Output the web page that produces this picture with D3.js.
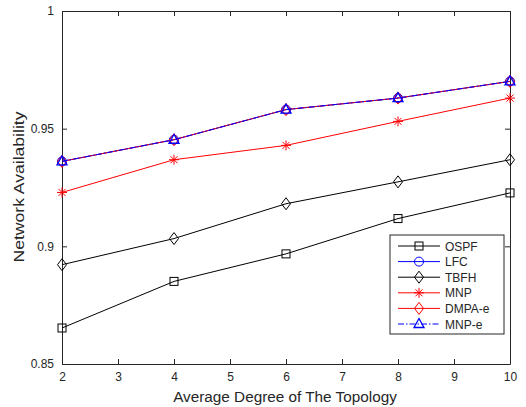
<!DOCTYPE html>
<html>
<head>
<meta charset="utf-8">
<script src="https://cdn.jsdelivr.net/npm/d3@7"></script>
<style>
  body { margin: 0; background: #fff; }
  text { font-family: "Liberation Sans", Arial, Helvetica, sans-serif; fill: #262626; }
</style>
</head>
<body>
<script>
// Data
var degrees = [2, 4, 6, 8, 10];
var ospf   = [0.8653, 0.8851, 0.8968, 0.9118, 0.9227];
var lfc    = [0.9361, 0.9453, 0.9581, 0.9630, 0.9701];
var tbfh   = [0.8922, 0.9033, 0.9181, 0.9274, 0.9368];
var mnp    = [0.9229, 0.9368, 0.9429, 0.9531, 0.9630];
var dmpaE  = [0.9361, 0.9453, 0.9581, 0.9630, 0.9701];
var mnpE   = [0.9361, 0.9453, 0.9581, 0.9630, 0.9701];
var xTicks = [2, 3, 4, 5, 6, 7, 8, 9, 10];
var yTicks = [0.85, 0.9, 0.95, 1];

var series = [
  {name: "OSPF",   values: ospf,  color: "#000", marker: "square",   dash: null},
  {name: "LFC",    values: lfc,   color: "#0000ff", marker: "circle", dash: null},
  {name: "TBFH",   values: tbfh,  color: "#000", marker: "diamond",  dash: null},
  {name: "MNP",    values: mnp,   color: "#ff0000", marker: "star",   dash: null},
  {name: "DMPA-e", values: dmpaE, color: "#ff0000", marker: "diamond", dash: null},
  {name: "MNP-e",  values: mnpE,  color: "#0000ff", marker: "triangle", dash: "6,2,1.5,2"}
];

// Set the dimensions of the canvas / graph
var margin = {top: 11, right: 16, bottom: 43, left: 62},
    width = 526 - margin.left - margin.right,
    height = 407 - margin.top - margin.bottom;

var x = d3.scaleLinear().domain([2, 10]).range([0, width]);
var y = d3.scaleLinear().domain([0.85, 1]).range([height, 0]);

var svg = d3.select("body")
    .append("svg")
        .attr("width", 526)
        .attr("height", 407)
    .append("g")
        .attr("transform", "translate(" + margin.left + "," + margin.top + ")");

// Axes (ticks point inward, MATLAB style)
var xAxis = d3.axisBottom(x).tickValues(xTicks).tickSizeInner(-5).tickSizeOuter(0).tickPadding(8)
    .tickFormat(d3.format("d"));
var yAxis = d3.axisLeft(y).tickValues(yTicks).tickSizeInner(-5).tickSizeOuter(0).tickPadding(8)
    .tickFormat(function(d) { return d === 1 ? "1" : d3.format(".2~f")(d); });

svg.append("g")
    .attr("class", "x axis")
    .attr("transform", "translate(0," + height + ")")
    .call(xAxis);
svg.append("g")
    .attr("class", "y axis")
    .call(yAxis);
// top and right ticks
svg.append("g").call(d3.axisTop(x).tickValues(xTicks).tickSizeInner(-5).tickSizeOuter(0).tickFormat(""));
svg.append("g").attr("transform", "translate(" + width + ",0)")
    .call(d3.axisRight(y).tickValues(yTicks).tickSizeInner(-5).tickSizeOuter(0).tickFormat(""));

svg.selectAll(".domain").attr("stroke", "#262626");
svg.selectAll(".tick line").attr("stroke", "#262626");
svg.selectAll(".tick text").style("font-size", "12px").attr("fill", "#262626");

// Labels
svg.append("text")
    .attr("x", 285 - margin.left)
    .attr("y", 402 - margin.top)
    .attr("text-anchor", "middle")
    .style("font-size", "15.3px")
    .text("Average Degree of The Topology");
svg.append("text")
    .attr("transform", "translate(" + (24 - margin.left) + "," + (187 - margin.top) + ") rotate(-90)")
    .attr("text-anchor", "middle")
    .attr("textLength", 151)
    .attr("lengthAdjust", "spacingAndGlyphs")
    .style("font-size", "15.3px")
    .text("Network Availability");

function drawMarker(g, type, color) {
  if (type === "square") {
    g.append("rect").attr("x", -4).attr("y", -4).attr("width", 8).attr("height", 8)
      .attr("fill", "none").attr("stroke", color);
  } else if (type === "circle") {
    g.append("circle").attr("r", 4.5).attr("fill", "none").attr("stroke", color);
  } else if (type === "diamond") {
    g.append("path").attr("d", "M0,-6L4.5,0L0,6L-4.5,0Z").attr("fill", "none").attr("stroke", color);
  } else if (type === "triangle") {
    g.append("path").attr("d", "M0,-5.5L5,3.5L-5,3.5Z").attr("fill", "none").attr("stroke", color).attr("stroke-width", 1.3);
  } else if (type === "star") {
    g.append("path").attr("d", "M-5,0L5,0M0,-5L0,5M-3.5,-3.5L3.5,3.5M-3.5,3.5L3.5,-3.5")
      .attr("stroke", color).attr("stroke-width", 1);
  }
}

var line = d3.line()
    .x(function(d) { return x(d.x); })
    .y(function(d) { return y(d.y); });

series.forEach(function(s) {
  var pts = degrees.map(function(d, i) { return {x: d, y: s.values[i]}; });
  svg.append("path")
      .datum(pts)
      .attr("d", line)
      .attr("fill", "none")
      .attr("stroke", s.color)
      .attr("stroke-width", 1)
      .attr("stroke-dasharray", s.dash);
  pts.forEach(function(p) {
    var g = svg.append("g").attr("transform", "translate(" + x(p.x) + "," + y(p.y) + ")");
    drawMarker(g, s.marker, s.color);
  });
});

// Legend
var lg = svg.append("g").attr("transform", "translate(" + (390 - margin.left) + "," + (235 - margin.top) + ")");
lg.append("rect").attr("width", 114).attr("height", 99)
    .attr("fill", "#fff").attr("stroke", "#262626").attr("stroke-width", 1);
series.forEach(function(s, i) {
  var row = lg.append("g").attr("transform", "translate(0," + (11 + i * 15.6) + ")");
  row.append("line").attr("x1", 8).attr("x2", 50).attr("y1", 0).attr("y2", 0)
      .attr("stroke", s.color).attr("stroke-dasharray", s.dash);
  drawMarker(row.append("g").attr("transform", "translate(29,0)"), s.marker, s.color);
  row.append("text").attr("x", 55).attr("y", 4.5).style("font-size", "12px").attr("fill", "#000").text(s.name);
});
</script>
</body>
</html>
